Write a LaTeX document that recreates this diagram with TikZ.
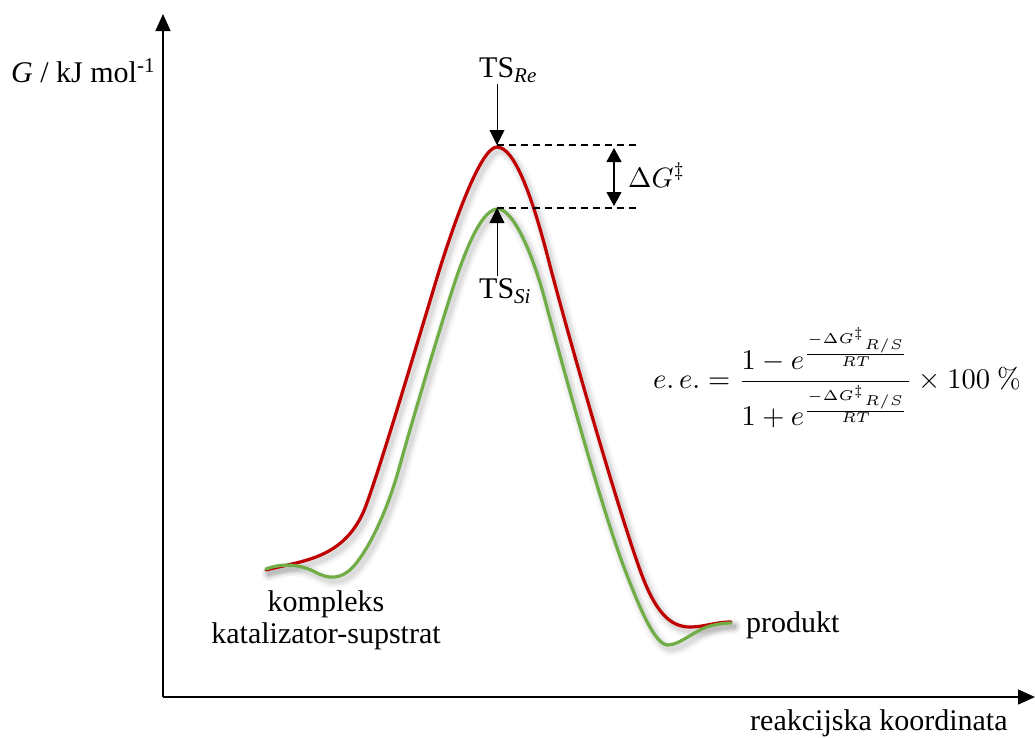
\documentclass[tikz,border=0pt]{standalone}
\usepackage{graphicx}
\usepackage[no-math]{fontspec}
\setmainfont{Liberation Serif}
\usetikzlibrary{arrows.meta}
\definecolor{cred}{RGB}{192,0,0}
\definecolor{cgreen}{RGB}{112,173,71}
\tikzset{
  lbl/.style={inner sep=0pt, font=\fontsize{30}{31}\selectfont},
  axis/.style={line width=1.3pt, -{Triangle[width=15pt,length=17pt]}},
  ptr/.style={line width=0.9pt, -{Triangle[width=15pt,length=15pt]}},
  dbl/.style={line width=1.1pt, {Triangle[width=15pt,length=14pt]}-{Triangle[width=15pt,length=14pt]}},
  guide/.style={line width=1.6pt, dash pattern=on 7pt off 5pt},
  curve/.style={line width=3.2pt, line cap=round},
}
\def\redpath{(266,570) .. controls (300,561) and (340,560) .. (362,515)
  .. controls (372,497) and (430,300) .. (440,268)
  .. controls (452,230) and (480,147) .. (497,147)
  .. controls (515,147) and (533,200) .. (548,258)
  .. controls (565,324) and (615,500) .. (640,570)
  .. controls (655,612) and (670,627) .. (690,627)
  .. controls (705,627) and (715,622) .. (731,622)}
\def\greenpath{(266,569) .. controls (282,563) and (300,564) .. (315,572)
  .. controls (328,579) and (340,580) .. (352,568)
  .. controls (364,556) and (385,520) .. (400,465)
  .. controls (409,432) and (445,310) .. (458,273)
  .. controls (469,242) and (483,209) .. (498,209)
  .. controls (512,209) and (531,248) .. (545,300)
  .. controls (556,341) and (600,505) .. (625,570)
  .. controls (640,609) and (655,645) .. (668,645)
  .. controls (680,645) and (695,630) .. (710,626)
  .. controls (718,624) and (725,623) .. (731,623)}
\begin{document}
\begin{tikzpicture}[x=1pt,y=-1pt]
\useasboundingbox (0,0) rectangle (1035,737);
% axes
\coordinate (O) at (163,697);
\coordinate (ytip) at (163,14);
\coordinate (xtip) at (1035,697);
\draw[axis] (O) -- (ytip);
\draw[axis] (O) -- (xtip);
% shadows
\foreach \w/\o in {14/0.03,9/0.05,5/0.06}{
\draw[line width=\w pt, line cap=round, opacity=\o, shift={(3,4)}] \redpath;
\draw[line width=\w pt, line cap=round, opacity=\o, shift={(3,4)}] \greenpath;
}
% curves
\draw[curve, cred] \redpath;
\draw[curve, cgreen] \greenpath;
% dashed guides
\coordinate (reTop) at (497,145);
\coordinate (reEnd) at (637,145);
\coordinate (siTop) at (497,208);
\coordinate (siEnd) at (636,208);
\draw[guide] (reTop) -- (reEnd);
\draw[guide] (siTop) -- (siEnd);
\coordinate (dgA) at (614,148);
\coordinate (dgB) at (614,206);
\draw[dbl] (dgA) -- (dgB);
\node[inner sep=0pt, anchor=base west] (dg) at (628,187) {\scalebox{2.8}{$\Delta G^{\ddagger}$}};
% TS labels
\node[lbl, anchor=base west] (tsre) at (479,77) {TS\textsubscript{\textit{Re}}};
\node[lbl, anchor=base west] (tssi) at (479,298) {TS\textsubscript{\textit{Si}}};
\coordinate (reArrS) at (497,84);
\coordinate (siArrS) at (497,276);
\draw[ptr] (reArrS) -- (reTop);
\draw[ptr] (siArrS) -- (siTop);
% axis labels
\node[lbl, anchor=base west] (ylab) at (11,82) {\textit{G} / kJ mol\textsuperscript{-1}};
\node[lbl, anchor=base west] (xlab) at (750,730) {reakcijska koordinata};
\node[lbl, anchor=base west] (prod) at (746,632) {produkt};
\node[lbl, align=center, anchor=base] (komp) at (326,643) {kompleks\\[1pt]katalizator-supstrat};
% formula
\node[inner sep=0pt] (ee) at (837,378) {\scalebox{2.85}{$\displaystyle e.\,e. = \frac{1-e^{\frac{-\Delta G^{\ddagger}{}_{R/S}}{RT}}}{1+e^{\frac{-\Delta G^{\ddagger}{}_{R/S}}{RT}}}\times 100~\%$}};
\end{tikzpicture}
\end{document}
